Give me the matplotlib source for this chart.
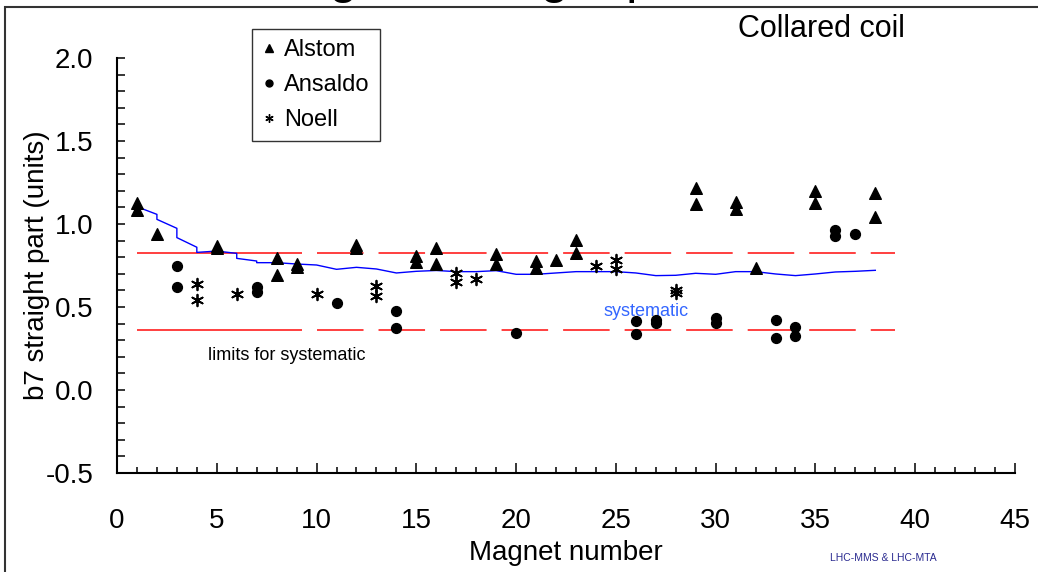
import matplotlib
matplotlib.use('Agg')
import matplotlib.pyplot as plt
from matplotlib.ticker import MultipleLocator, FormatStrFormatter
from matplotlib.lines import Line2D
from matplotlib.patches import Rectangle

plt.rcParams['font.family'] = ['Liberation Sans', 'DejaVu Sans']
plt.rcParams['axes.unicode_minus'] = False
plt.rcParams['lines.scale_dashes'] = False

# ---------------- data ----------------
alstom_x = [1, 1, 2, 5, 5, 8, 8, 9, 9, 12, 12, 15, 15, 16, 16, 19, 19, 21, 21, 22,
            23, 23, 29, 29, 31, 31, 32, 35, 35, 38, 38]
alstom_y = [1.128, 1.084, 0.940, 0.867, 0.857, 0.793, 0.693, 0.757, 0.743, 0.873,
            0.853, 0.807, 0.771, 0.857, 0.757, 0.821, 0.757, 0.777, 0.733, 0.785,
            0.904, 0.827, 1.215, 1.120, 1.131, 1.089, 0.733, 1.201, 1.124, 1.185, 1.040]

ansaldo_x = [3, 3, 7, 7, 11, 14, 14, 20, 26, 26, 27, 27, 30, 30, 33, 33, 34, 34, 36, 36, 37]
ansaldo_y = [0.749, 0.620, 0.620, 0.592, 0.526, 0.476, 0.373, 0.341, 0.416, 0.337,
             0.420, 0.405, 0.432, 0.402, 0.424, 0.311, 0.381, 0.325, 0.962, 0.928, 0.938]

noell_x = [4, 4, 6, 10, 13, 13, 17, 17, 18, 24, 25, 25, 28, 28]
noell_y = [0.640, 0.542, 0.576, 0.576, 0.627, 0.568, 0.707, 0.649, 0.669, 0.747,
           0.783, 0.731, 0.600, 0.585]

# running systematic value (repeated x = vertical step)
sys_x = [1, 2, 2, 3, 3, 4, 4, 5, 6, 6, 7, 7, 8,
         9, 10, 11, 12, 13, 14, 15, 16, 17, 18, 19, 20, 21, 22, 23, 24, 25, 26,
         27, 28, 29, 30, 31, 32, 33, 34, 35, 36, 37, 38]
sys_y = [1.104, 1.058, 1.028, 0.974, 0.918, 0.860, 0.829, 0.837, 0.823, 0.793,
         0.777, 0.767, 0.767,
         0.759, 0.753, 0.727, 0.739, 0.729, 0.705, 0.715, 0.720, 0.713, 0.713,
         0.719, 0.697, 0.697, 0.705, 0.713, 0.713, 0.713, 0.705, 0.689, 0.691,
         0.703, 0.697, 0.713, 0.713, 0.699, 0.689, 0.699, 0.711, 0.715, 0.721]

limit_upper = 0.823
limit_lower = 0.361
limit_solid_x = [1, 9.25]
limit_dash_x = [10, 39]

x_ticks = [0, 5, 10, 15, 20, 25, 30, 35, 40, 45]
y_ticks = [-0.5, 0.0, 0.5, 1.0, 1.5, 2.0]

# ---------------- figure ----------------
W, H = 1038, 572
fig = plt.figure(figsize=(W / 100, H / 100), dpi=100)
ax = fig.add_axes([117 / W, 1 - 473 / H, (1015 - 117) / W, (473 - 58) / H])
ax.set_xlim(0, 45)
ax.set_ylim(-0.5, 2.0)

red = '#ff3030'
for yv in (limit_upper, limit_lower):
    ax.plot(limit_solid_x, [yv, yv], color=red, lw=1.3, solid_capstyle='butt')
    ax.plot(limit_dash_x, [yv, yv], color=red, lw=1.3, dashes=(33.5, 10.8),
            dash_capstyle='butt')

ax.plot(sys_x, sys_y, color='#0000ff', lw=1.0)

ax.scatter(alstom_x, alstom_y, marker='^', s=70, color='black', zorder=5)
ax.scatter(ansaldo_x, ansaldo_y, marker='o', s=50, color='black', zorder=5)
ax.scatter(noell_x, noell_y, marker=(6, 2, 0), s=70, color='black', linewidths=1.3, zorder=5)

# axes styling
for side in ('top', 'right'):
    ax.spines[side].set_visible(False)
for side in ('left', 'bottom'):
    ax.spines[side].set_linewidth(1.5)
ax.set_xticks(x_ticks)
ax.set_yticks(y_ticks)
ax.xaxis.set_minor_locator(MultipleLocator(1))
ax.yaxis.set_minor_locator(MultipleLocator(0.1))
ax.yaxis.set_major_formatter(FormatStrFormatter('%.1f'))
ax.tick_params(which='both', direction='in', labelsize=20, width=1.1)
ax.tick_params(axis='x', which='major', length=7, pad=25)
ax.tick_params(axis='x', which='minor', length=4)
ax.tick_params(axis='y', which='both', length=5.5, pad=17)

fig.text(37 / W, 1 - 265 / H, 'b7 straight part (units)', rotation=90,
         ha='center', va='center', fontsize=20)
fig.text(566 / W, 1 - 560 / H, 'Magnet number', ha='center', va='baseline', fontsize=20)
fig.text(821 / W, 1 - 29 / H, 'Collared coil', ha='center', va='center', fontsize=22)
fig.text(883 / W, 1 - 561 / H, 'LHC-MMS & LHC-MTA', ha='center', va='baseline',
         fontsize=7.5, color='#2a2a90',
         family=['Liberation Sans Narrow', 'Liberation Sans', 'DejaVu Sans'])

ax.text(4.57, 0.181, 'limits for systematic', fontsize=13, ha='left', va='baseline')
ax.text(24.38, 0.446, 'systematic', fontsize=13, ha='left', va='baseline', color='#3366ff')

# partially visible title at the very top edge (cropped in the original)
fig.text(258 / W, 1 + 8 / H, 'magnet straight part', fontsize=37, ha='left', va='baseline')

handles = [Line2D([], [], marker='^', ls='none', color='black', markersize=6),
           Line2D([], [], marker='o', ls='none', color='black', markersize=5),
           Line2D([], [], marker=(6, 2, 0), ls='none', color='black', markersize=6,
                  markeredgewidth=1.0)]
leg = fig.legend(handles, ['Alstom', 'Ansaldo', 'Noell'], loc='upper left',
                 bbox_to_anchor=(252 / W, 1 - 29 / H), fontsize=17, frameon=True,
                 fancybox=False, shadow=False, handlelength=0.6, handletextpad=0.35,
                 labelspacing=0.55, borderpad=0.42, borderaxespad=0)
leg.get_frame().set_edgecolor('black')
leg.get_frame().set_linewidth(1.0)

# outer frame of the original figure (cropped on right and bottom)
fig.add_artist(Rectangle((5 / W, -0.1), 1.2, 1.1 - 7 / H, transform=fig.transFigure,
                         fill=False, edgecolor='#333333', lw=1.5, clip_on=False))

fig.savefig('out.png', dpi=100)
